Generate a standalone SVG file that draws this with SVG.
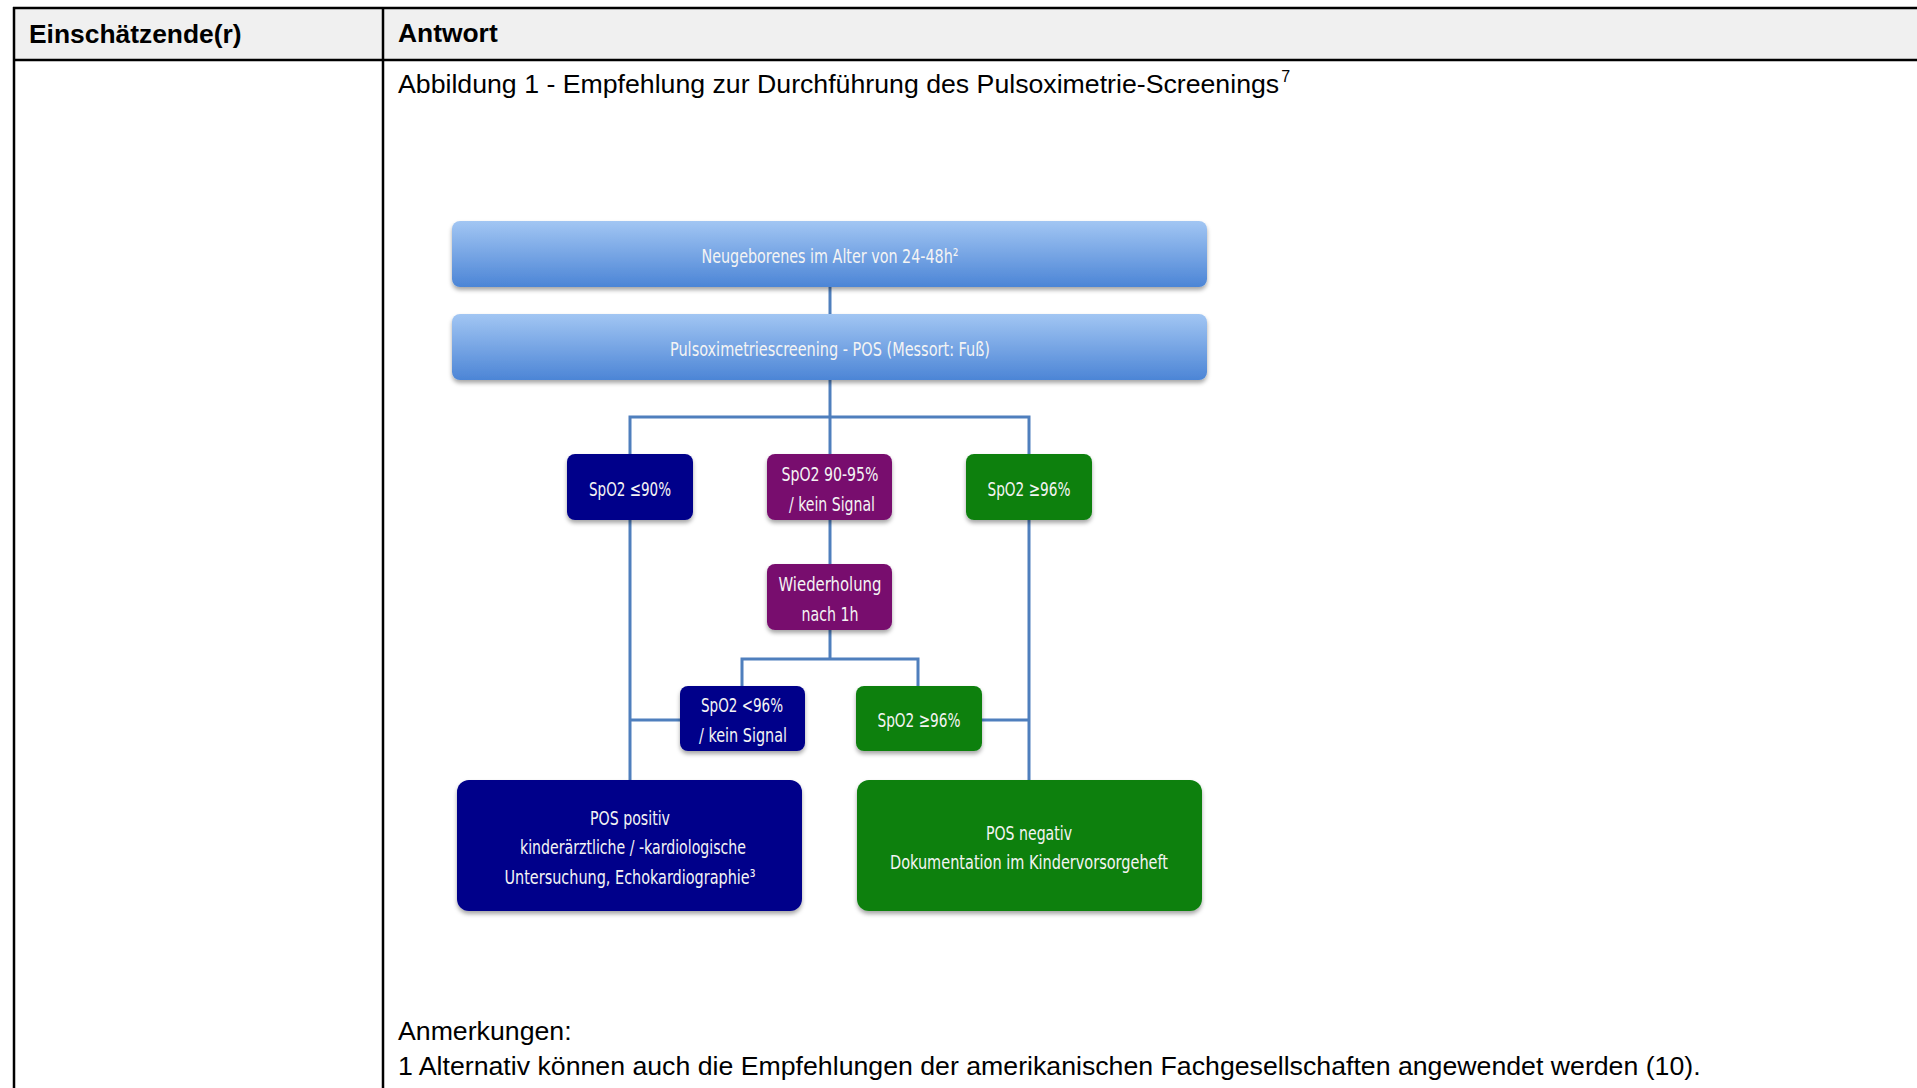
<svg xmlns="http://www.w3.org/2000/svg" width="1917" height="1088" viewBox="0 0 1917 1088">
<style>
.tbl{stroke:#000;stroke-width:2.5;fill:none}
.hd{font-family:"Liberation Sans",Arial,sans-serif;font-weight:bold;font-size:26.4px;fill:#000}
.bd{font-family:"Liberation Sans",Arial,sans-serif;font-size:26.7px;fill:#000}
.bx{font-family:"Liberation Sans Narrow","DejaVu Sans Condensed","Open Sans",sans-serif;font-size:20px;fill:#f4f4f4;text-anchor:middle}
.con{stroke:#4f7fbd;stroke-width:3;fill:none}
.navy{fill:#06068a}
.purple{fill:#780b6e}
.green{fill:#0a800d}
</style>
<defs>
<linearGradient id="bluegrad" x1="0" y1="0" x2="0" y2="1">
<stop offset="0" stop-color="#a2c6f3"/>
<stop offset="1" stop-color="#4c85d6"/>
</linearGradient>
<filter id="sh" x="-10%" y="-20%" width="120%" height="150%">
<feDropShadow dx="0" dy="3" stdDeviation="2" flood-color="#000" flood-opacity="0.35"/>
</filter>
</defs>
<rect width="1917" height="1088" fill="#fff"/>
<g id="table">
<rect x="13" y="8" width="1904" height="52" fill="#f0f0f0"/>
<line class="tbl" x1="13" y1="8" x2="1917" y2="8"/>
<line class="tbl" x1="13" y1="60" x2="1917" y2="60"/>
<line class="tbl" x1="14" y1="7" x2="14" y2="1088"/>
<line class="tbl" x1="383" y1="7" x2="383" y2="1088"/>
<text class="hd" x="29" y="43">Einschätzende(r)</text>
<text class="hd" x="398" y="42">Antwort</text>
<text class="bd" x="398" y="93">Abbildung 1 - Empfehlung zur Durchführung des Pulsoximetrie-Screenings<tspan font-size="16" dy="-11" dx="2">7</tspan></text>
<text class="bd" x="398" y="1040">Anmerkungen:</text>
<text class="bd" x="398" y="1075">1 Alternativ können auch die Empfehlungen der amerikanischen Fachgesellschaften angewendet werden (10).</text>
</g>
<g id="connectors">
<line class="con" x1="830" y1="287" x2="830" y2="314"/>
<line class="con" x1="830" y1="380" x2="830" y2="454"/>
<polyline class="con" points="630,454 630,417 1029,417 1029,454"/>
<line class="con" x1="830" y1="520" x2="830" y2="564"/>
<line class="con" x1="830" y1="630" x2="830" y2="659"/>
<polyline class="con" points="742,686 742,659 918,659 918,686"/>
<line class="con" x1="630" y1="520" x2="630" y2="780"/>
<line class="con" x1="630" y1="720" x2="680" y2="720"/>
<line class="con" x1="1029" y1="520" x2="1029" y2="780"/>
<line class="con" x1="982" y1="720" x2="1029" y2="720"/>
</g>
<g id="n1">
<rect x="452" y="221" width="755" height="66" rx="8" fill="url(#bluegrad)" filter="url(#sh)"/>
<text class="bx" x="830" y="263" textLength="257" lengthAdjust="spacingAndGlyphs">Neugeborenes im Alter von 24-48h²</text>
</g>
<g id="n2">
<rect x="452" y="314" width="755" height="66" rx="8" fill="url(#bluegrad)" filter="url(#sh)"/>
<text class="bx" x="830" y="356" textLength="320" lengthAdjust="spacingAndGlyphs">Pulsoximetriescreening - POS (Messort: Fuß)</text>
</g>
<g id="n3">
<rect class="navy" x="567" y="454" width="126" height="66" rx="8" filter="url(#sh)"/>
<text class="bx" x="630" y="496" textLength="82" lengthAdjust="spacingAndGlyphs">SpO2 ≤90%</text>
</g>
<g id="n4">
<rect class="purple" x="767" y="454" width="125" height="66" rx="8" filter="url(#sh)"/>
<text class="bx" x="830" y="481" textLength="97" lengthAdjust="spacingAndGlyphs">SpO2 90-95%</text>
<text class="bx" x="832" y="511" textLength="86" lengthAdjust="spacingAndGlyphs">/ kein Signal</text>
</g>
<g id="n5">
<rect class="green" x="966" y="454" width="126" height="66" rx="8" filter="url(#sh)"/>
<text class="bx" x="1029" y="496" textLength="83" lengthAdjust="spacingAndGlyphs">SpO2 ≥96%</text>
</g>
<g id="n6">
<rect class="purple" x="767" y="564" width="125" height="66" rx="8" filter="url(#sh)"/>
<text class="bx" x="830" y="591" textLength="103" lengthAdjust="spacingAndGlyphs">Wiederholung</text>
<text class="bx" x="830" y="621" textLength="57" lengthAdjust="spacingAndGlyphs">nach 1h</text>
</g>
<g id="n7">
<rect class="navy" x="680" y="686" width="125" height="65" rx="8" filter="url(#sh)"/>
<text class="bx" x="742" y="712" textLength="82" lengthAdjust="spacingAndGlyphs">SpO2 &lt;96%</text>
<text class="bx" x="743" y="742" textLength="88" lengthAdjust="spacingAndGlyphs">/ kein Signal</text>
</g>
<g id="n8">
<rect class="green" x="856" y="686" width="126" height="65" rx="8" filter="url(#sh)"/>
<text class="bx" x="919" y="727" textLength="83" lengthAdjust="spacingAndGlyphs">SpO2 ≥96%</text>
</g>
<g id="n9">
<rect class="navy" x="457" y="780" width="345" height="131" rx="12" filter="url(#sh)"/>
<text class="bx" x="630" y="825" textLength="80" lengthAdjust="spacingAndGlyphs">POS positiv</text>
<text class="bx" x="633" y="854" textLength="226" lengthAdjust="spacingAndGlyphs">kinderärztliche / -kardiologische</text>
<text class="bx" x="630" y="884" textLength="251" lengthAdjust="spacingAndGlyphs">Untersuchung, Echokardiographie³</text>
</g>
<g id="n10">
<rect class="green" x="857" y="780" width="345" height="131" rx="12" filter="url(#sh)"/>
<text class="bx" x="1029" y="840" textLength="86" lengthAdjust="spacingAndGlyphs">POS negativ</text>
<text class="bx" x="1029" y="869" textLength="278" lengthAdjust="spacingAndGlyphs">Dokumentation im Kindervorsorgeheft</text>
</g>
</svg>
